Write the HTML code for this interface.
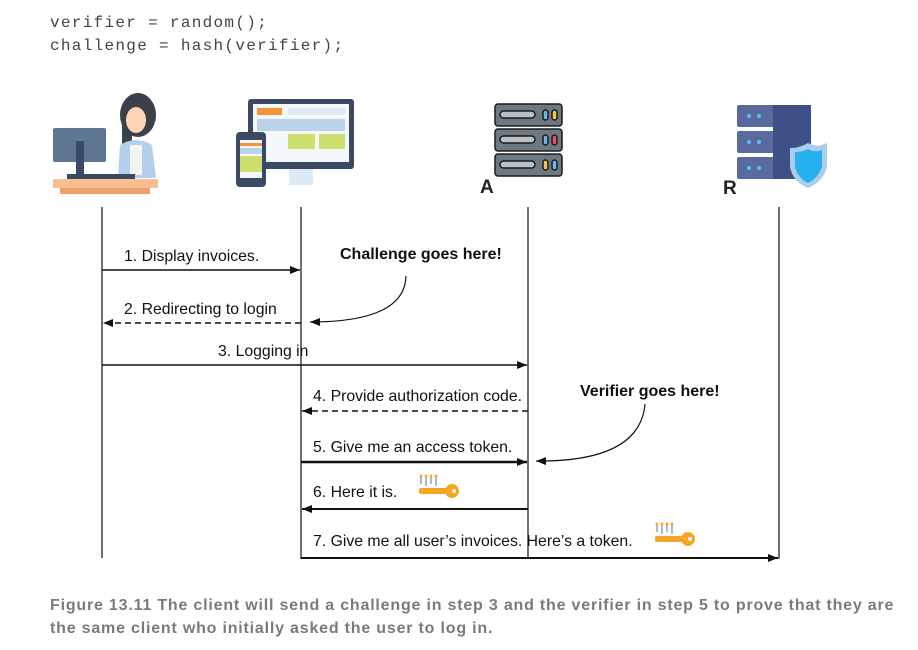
<!DOCTYPE html>
<html><head><meta charset="utf-8"><style>
body{margin:0;background:#fff;width:918px;height:650px;overflow:hidden}
svg{display:block}
</style></head><body>
<svg width="918" height="650" viewBox="0 0 918 650" xmlns="http://www.w3.org/2000/svg">
<defs>
<marker id="ah" markerWidth="10" markerHeight="8" refX="10" refY="4" orient="auto" markerUnits="userSpaceOnUse"><path d="M0,0 L10,4 L0,8 Z" fill="#111"/></marker>
<g id="key">
<path d="M2,0 v8 M7,0 v10 M12,0 v8 M17,0 v10" stroke="#5a6fa8" stroke-width="1" fill="none"/>
<circle cx="2" cy="0" r="1.5" fill="#f5a623"/><circle cx="7" cy="0" r="1.5" fill="#f5a623"/><circle cx="12" cy="0" r="1.5" fill="#f5a623"/><circle cx="17" cy="0" r="1.5" fill="#f5a623"/>
<rect x="0" y="12" width="28" height="6" rx="2" fill="#f5a623"/>
<circle cx="33" cy="15" r="7" fill="#f5a623"/><circle cx="35" cy="15" r="2" fill="#fff"/>
</g>
</defs>
<g font-family="Liberation Mono, monospace" font-size="16" letter-spacing="1.3" fill="#444">
<text x="50" y="27">verifier = random();</text>
<text x="50" y="50">challenge = hash(verifier);</text>
</g>
<!-- user icon -->
<rect x="53" y="128" width="53" height="34" rx="2" fill="#5f7691"/>
<rect x="76" y="141" width="8" height="34" fill="#3b4a63"/>
<ellipse cx="138" cy="115" rx="18" ry="22" fill="#3b4049"/>
<rect x="122" y="105" width="10" height="50" fill="#3b4049"/>
<ellipse cx="136" cy="120" rx="10" ry="13" fill="#fcd5b5"/>
<path d="M118,178 L120,145 Q136,135 152,145 L156,178 Z" fill="#b3cfed"/>
<rect x="130" y="145" width="12" height="30" fill="#f3f3f3"/>
<rect x="67" y="174" width="68" height="5" fill="#3b4a63"/>
<rect x="53" y="179" width="105" height="9" fill="#fbbf8f"/>
<rect x="60" y="188" width="90" height="6" fill="#f0a06e"/>
<!-- browser icon -->
<rect x="248" y="99" width="106" height="70" rx="3" fill="#3b4a63"/>
<rect x="253" y="104" width="96" height="58" fill="#f4f8fc"/>
<rect x="257" y="108" width="25" height="7" fill="#f5923a"/>
<rect x="288" y="108" width="57" height="7" fill="#ddeaf5"/>
<rect x="257" y="119" width="88" height="12" fill="#bcd4ea"/>
<rect x="288" y="134" width="27" height="15" fill="#cddf6c"/>
<rect x="319" y="134" width="26" height="15" fill="#cddf6c"/>
<rect x="289" y="169" width="24" height="16" fill="#dbeaf7"/>
<rect x="236" y="132" width="30" height="55" rx="4" fill="#3b4a63"/>
<rect x="240" y="140" width="22" height="38" fill="#f4f8fc"/>
<rect x="240" y="143" width="22" height="3" fill="#f5923a"/>
<rect x="240" y="148" width="22" height="6" fill="#bcd4ea"/>
<rect x="240" y="156" width="22" height="16" fill="#cddf6c"/>
<!-- server A -->
<g stroke="#1b1b1b" stroke-width="1.5">
<rect x="495" y="104" width="67" height="22" rx="3" fill="#6d7880"/>
<rect x="495" y="129" width="67" height="22" rx="3" fill="#6d7880"/>
<rect x="495" y="154" width="67" height="22" rx="3" fill="#6d7880"/>
<rect x="500" y="111" width="35" height="7" rx="3.5" fill="#b8c0c6"/>
<rect x="500" y="136" width="35" height="7" rx="3.5" fill="#b8c0c6"/>
<rect x="500" y="161" width="35" height="7" rx="3.5" fill="#b8c0c6"/>
<rect x="543" y="110" width="5" height="10" rx="2.5" fill="#6fb3e0"/><rect x="552" y="110" width="5" height="10" rx="2.5" fill="#f4c542"/>
<rect x="543" y="135" width="5" height="10" rx="2.5" fill="#6fb3e0"/><rect x="552" y="135" width="5" height="10" rx="2.5" fill="#e0555a"/>
<rect x="543" y="160" width="5" height="10" rx="2.5" fill="#f4c542"/><rect x="552" y="160" width="5" height="10" rx="2.5" fill="#6fb3e0"/>
</g>
<text x="480" y="193" font-family="Liberation Sans, sans-serif" font-size="19" font-weight="bold" fill="#222">A</text>
<!-- server R -->
<rect x="737" y="105" width="74" height="22" rx="2" fill="#5a6a9f"/>
<rect x="737" y="131" width="74" height="22" rx="2" fill="#5a6a9f"/>
<rect x="737" y="157" width="74" height="22" rx="2" fill="#5a6a9f"/>
<rect x="773" y="105" width="38" height="74" fill="#3f4f88"/>
<g fill="#4fc3f7"><circle cx="749" cy="116" r="2"/><circle cx="759" cy="116" r="2"/><circle cx="749" cy="142" r="2"/><circle cx="759" cy="142" r="2"/><circle cx="749" cy="168" r="2"/><circle cx="759" cy="168" r="2"/></g>
<path d="M808,143 Q818,148 827,143 L827,167 Q823,182 808,188 Q793,182 790,167 L790,148 Q800,148 808,143 Z" fill="#a9cdeb"/>
<path d="M808,149 Q815,153 822,150 L822,167 Q818,178 808,183 Q798,178 795,167 L795,152 Q802,152 808,149 Z" fill="#26b0f0"/>
<text x="723" y="194" font-family="Liberation Sans, sans-serif" font-size="19" font-weight="bold" fill="#222">R</text>
<!-- lifelines -->
<g stroke="#111" stroke-width="1.2">
<line x1="102" y1="207" x2="102" y2="558"/>
<line x1="301" y1="207" x2="301" y2="559"/>
<line x1="528" y1="207" x2="528" y2="557"/>
<line x1="779" y1="207" x2="779" y2="559"/>
</g>
<g stroke="#111" stroke-width="1.6" fill="none">
<line x1="102" y1="270" x2="300" y2="270" marker-end="url(#ah)"/>
<line x1="301" y1="323" x2="103" y2="323" stroke-dasharray="6,4" marker-end="url(#ah)"/>
<line x1="102" y1="365" x2="527" y2="365" marker-end="url(#ah)"/>
<line x1="528" y1="411" x2="302" y2="411" stroke-dasharray="6,4" marker-end="url(#ah)"/>
<line x1="301" y1="462" x2="527" y2="462" stroke-width="2.4" marker-end="url(#ah)"/>
<line x1="528" y1="509" x2="302" y2="509" stroke-width="2" marker-end="url(#ah)"/>
<line x1="301" y1="558" x2="778" y2="558" stroke-width="2" marker-end="url(#ah)"/>
<path d="M406,276 Q405,322 310,322" stroke-width="1.2" marker-end="url(#ah)"/>
<path d="M645,404 Q640,462 536,461" stroke-width="1.2" marker-end="url(#ah)"/>
</g>
<g font-family="Liberation Sans, sans-serif" font-size="15.8" fill="#111">
<text x="124" y="261">1. Display invoices.</text>
<text x="124" y="314">2. Redirecting to login</text>
<text x="218" y="356">3. Logging in</text>
<text x="313" y="401">4. Provide authorization code.</text>
<text x="313" y="452">5. Give me an access token.</text>
<text x="313" y="497">6. Here it is.</text>
<text x="313" y="546">7. Give me all user’s invoices. Here’s a token.</text>
</g>
<g font-family="Liberation Sans Narrow, Liberation Sans, sans-serif" font-size="16" font-weight="bold" fill="#111">
<text x="340" y="259">Challenge goes here!</text>
<text x="580" y="396">Verifier goes here!</text>
</g>
<use href="#key" x="419" y="476"/>
<use href="#key" x="655" y="524"/>
<g font-family="Liberation Sans, sans-serif" font-size="16" letter-spacing="0.8" font-weight="bold" fill="#7a7a7a">
<text x="50" y="610">Figure 13.11   The client will send a challenge in step 3 and the verifier in step 5 to prove that they are</text>
<text x="50" y="633">the same client who initially asked the user to log in.</text>
</g>
</svg>
</body></html>
